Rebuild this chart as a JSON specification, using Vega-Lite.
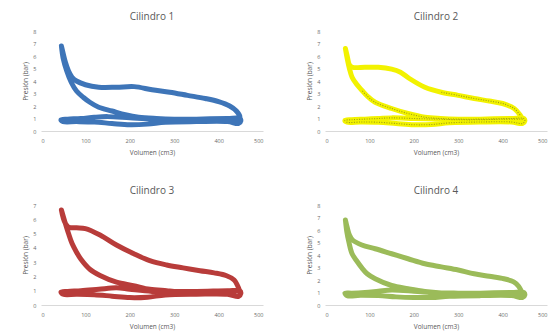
{
  "$schema": "https://vega.github.io/schema/vega-lite/v6.json",
  "background": "white",
  "padding": {"left": 22, "top": 12, "right": 5, "bottom": 5},
  "config": {
    "view": {"stroke": null},
    "font": "Open Sans",
    "title": {"fontSize": 10, "fontWeight": "normal", "color": "#595959", "offset": 7},
    "axis": {"grid": false, "ticks": false, "domainColor": "#D9D9D9", "labelFontSize": 5.5, "labelColor": "#6b6b6b", "titleFontSize": 6.5, "titleFontWeight": "normal", "titleColor": "#595959", "labelPadding": 5},
    "axisX": {"labelPadding": 7, "titlePadding": 6}
  },
  "datasets": {
    "pv": [
      {"c":1,"o":1,"v":46,"p":6.8},{"c":1,"o":2,"v":50,"p":6.2},{"c":1,"o":3,"v":55,"p":5.5},{"c":1,"o":4,"v":62,"p":4.8},{"c":1,"o":5,"v":70,"p":4.3},{"c":1,"o":6,"v":80,"p":4.0},{"c":1,"o":7,"v":100,"p":3.7},{"c":1,"o":8,"v":130,"p":3.5},{"c":1,"o":9,"v":170,"p":3.5},{"c":1,"o":10,"v":210,"p":3.55},{"c":1,"o":11,"v":250,"p":3.3},{"c":1,"o":12,"v":290,"p":3.1},{"c":1,"o":13,"v":330,"p":2.85},{"c":1,"o":14,"v":370,"p":2.6},{"c":1,"o":15,"v":400,"p":2.35},{"c":1,"o":16,"v":425,"p":2.0},{"c":1,"o":17,"v":440,"p":1.6},{"c":1,"o":18,"v":448,"p":1.1},
      {"c":1,"o":19,"v":445,"p":0.95},{"c":1,"o":20,"v":400,"p":0.95},{"c":1,"o":21,"v":350,"p":0.9},{"c":1,"o":22,"v":300,"p":0.9},{"c":1,"o":23,"v":250,"p":0.95},{"c":1,"o":24,"v":200,"p":1.05},{"c":1,"o":25,"v":150,"p":1.15},{"c":1,"o":26,"v":120,"p":1.1},{"c":1,"o":27,"v":90,"p":1.0},{"c":1,"o":28,"v":60,"p":0.95},{"c":1,"o":29,"v":45,"p":0.9},
      {"c":1,"o":30,"v":50,"p":0.75},{"c":1,"o":31,"v":80,"p":0.75},{"c":1,"o":32,"v":120,"p":0.72},{"c":1,"o":33,"v":160,"p":0.6},{"c":1,"o":34,"v":200,"p":0.5},{"c":1,"o":35,"v":240,"p":0.55},{"c":1,"o":36,"v":280,"p":0.7},{"c":1,"o":37,"v":350,"p":0.75},{"c":1,"o":38,"v":420,"p":0.75},{"c":1,"o":39,"v":445,"p":0.6},{"c":1,"o":40,"v":450,"p":0.8},{"c":1,"o":41,"v":448,"p":1.0},
      {"c":1,"o":42,"v":420,"p":1.0},{"c":1,"o":43,"v":350,"p":0.95},{"c":1,"o":44,"v":300,"p":0.95},{"c":1,"o":45,"v":260,"p":1.0},{"c":1,"o":46,"v":220,"p":1.1},{"c":1,"o":47,"v":190,"p":1.3},{"c":1,"o":48,"v":160,"p":1.6},{"c":1,"o":49,"v":130,"p":1.9},{"c":1,"o":50,"v":110,"p":2.3},{"c":1,"o":51,"v":95,"p":2.7},{"c":1,"o":52,"v":80,"p":3.2},{"c":1,"o":53,"v":68,"p":3.9},{"c":1,"o":54,"v":58,"p":4.8},{"c":1,"o":55,"v":50,"p":5.8},{"c":1,"o":56,"v":46,"p":6.8},

      {"c":2,"o":1,"v":46,"p":6.6},{"c":2,"o":2,"v":50,"p":6.0},{"c":2,"o":3,"v":55,"p":5.3},{"c":2,"o":4,"v":62,"p":5.1},{"c":2,"o":5,"v":90,"p":5.1},{"c":2,"o":6,"v":120,"p":5.1},{"c":2,"o":7,"v":150,"p":4.95},{"c":2,"o":8,"v":170,"p":4.7},{"c":2,"o":9,"v":190,"p":4.2},{"c":2,"o":10,"v":225,"p":3.5},{"c":2,"o":11,"v":262,"p":3.1},{"c":2,"o":12,"v":300,"p":2.85},{"c":2,"o":13,"v":336,"p":2.6},{"c":2,"o":14,"v":370,"p":2.4},{"c":2,"o":15,"v":400,"p":2.2},{"c":2,"o":16,"v":426,"p":1.8},{"c":2,"o":17,"v":440,"p":1.25},{"c":2,"o":18,"v":446,"p":0.9},
      {"c":2,"o":19,"v":445,"p":0.95},{"c":2,"o":20,"v":400,"p":0.95},{"c":2,"o":21,"v":350,"p":0.9},{"c":2,"o":22,"v":300,"p":0.9},{"c":2,"o":23,"v":250,"p":0.95},{"c":2,"o":24,"v":200,"p":1.0},{"c":2,"o":25,"v":150,"p":1.05},{"c":2,"o":26,"v":120,"p":1.0},{"c":2,"o":27,"v":90,"p":0.95},{"c":2,"o":28,"v":60,"p":0.9},{"c":2,"o":29,"v":45,"p":0.85},
      {"c":2,"o":30,"v":50,"p":0.7},{"c":2,"o":31,"v":80,"p":0.72},{"c":2,"o":32,"v":120,"p":0.7},{"c":2,"o":33,"v":160,"p":0.6},{"c":2,"o":34,"v":200,"p":0.5},{"c":2,"o":35,"v":240,"p":0.52},{"c":2,"o":36,"v":280,"p":0.65},{"c":2,"o":37,"v":350,"p":0.72},{"c":2,"o":38,"v":420,"p":0.72},{"c":2,"o":39,"v":445,"p":0.6},{"c":2,"o":40,"v":450,"p":0.8},{"c":2,"o":41,"v":448,"p":1.0},
      {"c":2,"o":42,"v":420,"p":1.0},{"c":2,"o":43,"v":350,"p":0.95},{"c":2,"o":44,"v":300,"p":0.95},{"c":2,"o":45,"v":260,"p":1.0},{"c":2,"o":46,"v":225,"p":1.1},{"c":2,"o":47,"v":187,"p":1.4},{"c":2,"o":48,"v":150,"p":1.8},{"c":2,"o":49,"v":113,"p":2.3},{"c":2,"o":50,"v":95,"p":2.8},{"c":2,"o":51,"v":83,"p":3.26},{"c":2,"o":52,"v":70,"p":3.8},{"c":2,"o":53,"v":61,"p":4.3},{"c":2,"o":54,"v":55,"p":5.0},{"c":2,"o":55,"v":50,"p":5.8},{"c":2,"o":56,"v":46,"p":6.6},

      {"c":3,"o":1,"v":46,"p":6.65},{"c":3,"o":2,"v":50,"p":6.1},{"c":3,"o":3,"v":55,"p":5.7},{"c":3,"o":4,"v":62,"p":5.45},{"c":3,"o":5,"v":80,"p":5.4},{"c":3,"o":6,"v":100,"p":5.35},{"c":3,"o":7,"v":133,"p":4.9},{"c":3,"o":8,"v":170,"p":4.2},{"c":3,"o":9,"v":208,"p":3.6},{"c":3,"o":10,"v":245,"p":3.1},{"c":3,"o":11,"v":283,"p":2.8},{"c":3,"o":12,"v":320,"p":2.6},{"c":3,"o":13,"v":358,"p":2.4},{"c":3,"o":14,"v":390,"p":2.25},{"c":3,"o":15,"v":418,"p":2.05},{"c":3,"o":16,"v":435,"p":1.75},{"c":3,"o":17,"v":442,"p":1.4},{"c":3,"o":18,"v":448,"p":0.9},
      {"c":3,"o":19,"v":445,"p":0.95},{"c":3,"o":20,"v":400,"p":0.95},{"c":3,"o":21,"v":350,"p":0.9},{"c":3,"o":22,"v":300,"p":0.9},{"c":3,"o":23,"v":250,"p":0.95},{"c":3,"o":24,"v":200,"p":1.1},{"c":3,"o":25,"v":170,"p":1.2},{"c":3,"o":26,"v":130,"p":1.1},{"c":3,"o":27,"v":90,"p":1.0},{"c":3,"o":28,"v":60,"p":0.95},{"c":3,"o":29,"v":45,"p":0.9},
      {"c":3,"o":30,"v":50,"p":0.75},{"c":3,"o":31,"v":80,"p":0.75},{"c":3,"o":32,"v":120,"p":0.72},{"c":3,"o":33,"v":160,"p":0.62},{"c":3,"o":34,"v":200,"p":0.52},{"c":3,"o":35,"v":240,"p":0.55},{"c":3,"o":36,"v":280,"p":0.7},{"c":3,"o":37,"v":350,"p":0.75},{"c":3,"o":38,"v":420,"p":0.75},{"c":3,"o":39,"v":445,"p":0.6},{"c":3,"o":40,"v":450,"p":0.8},{"c":3,"o":41,"v":448,"p":1.0},
      {"c":3,"o":42,"v":420,"p":1.0},{"c":3,"o":43,"v":350,"p":0.95},{"c":3,"o":44,"v":300,"p":0.95},{"c":3,"o":45,"v":283,"p":1.0},{"c":3,"o":46,"v":245,"p":1.1},{"c":3,"o":47,"v":208,"p":1.36},{"c":3,"o":48,"v":170,"p":1.6},{"c":3,"o":49,"v":133,"p":2.07},{"c":3,"o":50,"v":110,"p":2.5},{"c":3,"o":51,"v":90,"p":3.2},{"c":3,"o":52,"v":80,"p":3.7},{"c":3,"o":53,"v":70,"p":4.3},{"c":3,"o":54,"v":62,"p":5.0},{"c":3,"o":55,"v":54,"p":5.8},{"c":3,"o":56,"v":46,"p":6.65},

      {"c":4,"o":1,"v":46,"p":6.8},{"c":4,"o":2,"v":50,"p":6.2},{"c":4,"o":3,"v":55,"p":5.6},{"c":4,"o":4,"v":62,"p":5.2},{"c":4,"o":5,"v":83,"p":4.8},{"c":4,"o":6,"v":113,"p":4.5},{"c":4,"o":7,"v":150,"p":4.1},{"c":4,"o":8,"v":187,"p":3.7},{"c":4,"o":9,"v":225,"p":3.3},{"c":4,"o":10,"v":262,"p":3.05},{"c":4,"o":11,"v":300,"p":2.8},{"c":4,"o":12,"v":336,"p":2.5},{"c":4,"o":13,"v":370,"p":2.3},{"c":4,"o":14,"v":403,"p":2.1},{"c":4,"o":15,"v":425,"p":1.85},{"c":4,"o":16,"v":436,"p":1.5},{"c":4,"o":17,"v":444,"p":1.0},
      {"c":4,"o":19,"v":445,"p":0.95},{"c":4,"o":20,"v":400,"p":0.95},{"c":4,"o":21,"v":350,"p":0.9},{"c":4,"o":22,"v":300,"p":0.9},{"c":4,"o":23,"v":250,"p":0.95},{"c":4,"o":24,"v":200,"p":1.1},{"c":4,"o":25,"v":150,"p":1.2},{"c":4,"o":26,"v":120,"p":1.1},{"c":4,"o":27,"v":90,"p":1.0},{"c":4,"o":28,"v":60,"p":0.95},{"c":4,"o":29,"v":45,"p":0.95},
      {"c":4,"o":30,"v":50,"p":0.75},{"c":4,"o":31,"v":80,"p":0.78},{"c":4,"o":32,"v":120,"p":0.75},{"c":4,"o":33,"v":160,"p":0.65},{"c":4,"o":34,"v":200,"p":0.6},{"c":4,"o":35,"v":240,"p":0.6},{"c":4,"o":36,"v":280,"p":0.7},{"c":4,"o":37,"v":350,"p":0.75},{"c":4,"o":38,"v":420,"p":0.75},{"c":4,"o":39,"v":445,"p":0.6},{"c":4,"o":40,"v":450,"p":0.8},{"c":4,"o":41,"v":448,"p":1.0},
      {"c":4,"o":42,"v":420,"p":1.0},{"c":4,"o":43,"v":350,"p":0.95},{"c":4,"o":44,"v":300,"p":0.95},{"c":4,"o":45,"v":262,"p":0.97},{"c":4,"o":46,"v":225,"p":1.08},{"c":4,"o":47,"v":187,"p":1.3},{"c":4,"o":48,"v":150,"p":1.56},{"c":4,"o":49,"v":113,"p":2.1},{"c":4,"o":50,"v":95,"p":2.5},{"c":4,"o":51,"v":83,"p":2.97},{"c":4,"o":52,"v":72,"p":3.5},{"c":4,"o":53,"v":61,"p":4.1},{"c":4,"o":54,"v":54,"p":5.0},{"c":4,"o":55,"v":49,"p":5.9},{"c":4,"o":56,"v":46,"p":6.8}
    ]
  },
  "data": {"name": "pv"},
  "columns": 2,
  "spacing": {"row": 74, "column": 62},
  "bounds": "flush",
  "concat": [
    {
      "title": "Cilindro 1",
      "width": 222, "height": 100,
      "transform": [{"filter": "datum.c == 1"}],
      "mark": {"type": "line", "color": "#3E75B8", "strokeWidth": 5, "strokeJoin": "round", "strokeCap": "round", "interpolate": "catmull-rom"},
      "encoding": {
        "x": {"field": "v", "type": "quantitative", "title": "Volumen (cm3)", "scale": {"domain": [0, 500]}, "axis": {"values": [0,100,200,300,400,500]}},
        "y": {"field": "p", "type": "quantitative", "title": "Presión (bar)", "scale": {"domain": [0, 8]}, "axis": {"values": [0,1,2,3,4,5,6,7,8], "domain": false}},
        "order": {"field": "o", "type": "quantitative"}
      }
    },
    {
      "title": "Cilindro 2",
      "width": 222, "height": 100,
      "transform": [{"filter": "datum.c == 2"}],
      "encoding": {
        "x": {"field": "v", "type": "quantitative", "title": "Volumen (cm3)", "scale": {"domain": [0, 500]}, "axis": {"values": [0,100,200,300,400,500]}},
        "y": {"field": "p", "type": "quantitative", "title": "Presión (bar)", "scale": {"domain": [0, 8]}, "axis": {"values": [0,1,2,3,4,5,6,7,8], "domain": false}},
        "order": {"field": "o", "type": "quantitative"}
      },
      "layer": [
        {"mark": {"type": "line", "color": "#F2F200", "strokeWidth": 5, "strokeJoin": "round", "strokeCap": "round", "interpolate": "catmull-rom"}},
        {"transform": [{"filter": "datum.o >= 11 && datum.o <= 17"}], "mark": {"type": "line", "color": "#5a5a20", "strokeWidth": 1.1, "strokeDash": [1, 1.5], "opacity": 0.55, "interpolate": "catmull-rom"}},
        {"transform": [{"filter": "datum.o >= 19 && datum.o <= 51"}], "mark": {"type": "line", "color": "#5a5a20", "strokeWidth": 1.1, "strokeDash": [1, 1.5], "opacity": 0.55, "interpolate": "catmull-rom"}}
      ]
    },
    {
      "title": "Cilindro 3",
      "width": 222, "height": 100,
      "transform": [{"filter": "datum.c == 3"}],
      "mark": {"type": "line", "color": "#B83C3A", "strokeWidth": 5, "strokeJoin": "round", "strokeCap": "round", "interpolate": "catmull-rom"},
      "encoding": {
        "x": {"field": "v", "type": "quantitative", "title": "Volumen (cm3)", "scale": {"domain": [0, 500]}, "axis": {"values": [0,100,200,300,400,500]}},
        "y": {"field": "p", "type": "quantitative", "title": "Presión (bar)", "scale": {"domain": [0, 7]}, "axis": {"values": [0,1,2,3,4,5,6,7], "domain": false}},
        "order": {"field": "o", "type": "quantitative"}
      }
    },
    {
      "title": "Cilindro 4",
      "width": 222, "height": 100,
      "transform": [{"filter": "datum.c == 4"}],
      "mark": {"type": "line", "color": "#9BBB59", "strokeWidth": 5, "strokeJoin": "round", "strokeCap": "round", "interpolate": "catmull-rom"},
      "encoding": {
        "x": {"field": "v", "type": "quantitative", "title": "Volumen (cm3)", "scale": {"domain": [0, 500]}, "axis": {"values": [0,100,200,300,400,500]}},
        "y": {"field": "p", "type": "quantitative", "title": "Presión (bar)", "scale": {"domain": [0, 8]}, "axis": {"values": [0,1,2,3,4,5,6,7,8], "domain": false}},
        "order": {"field": "o", "type": "quantitative"}
      }
    }
  ]
}
